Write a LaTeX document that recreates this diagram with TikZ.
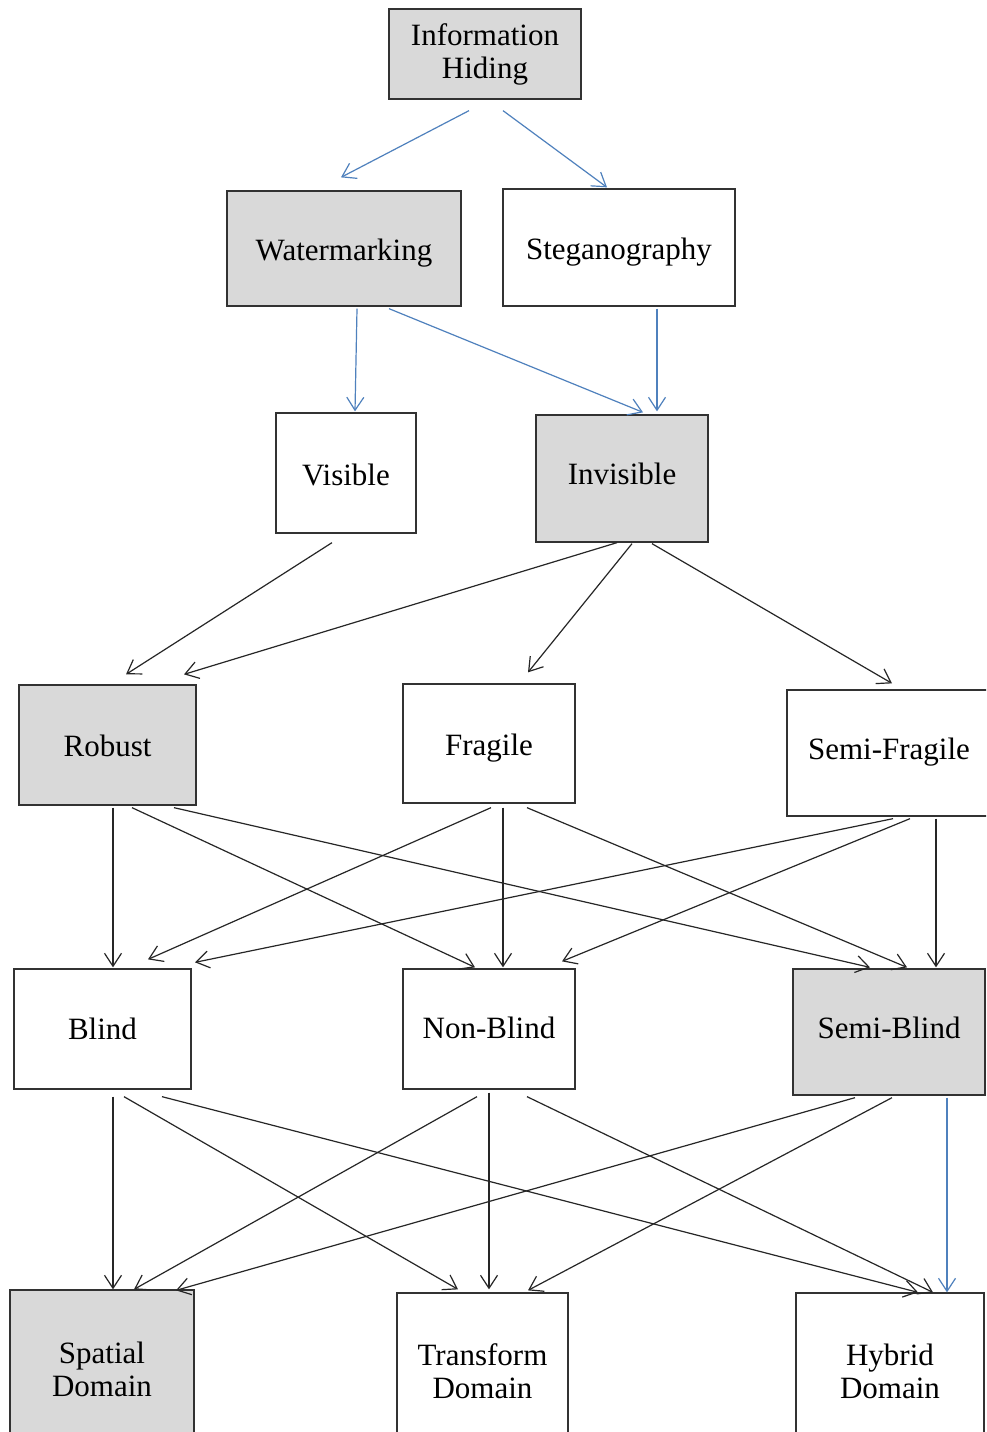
\documentclass[tikz,border=0pt]{standalone}
\usepackage{fontspec}
\setmainfont{Liberation Serif}
\usetikzlibrary{arrows.meta}
\definecolor{lineblue}{RGB}{79,129,189}
\definecolor{boxgray}{RGB}{217,217,217}
\definecolor{boxedge}{RGB}{50,50,50}
\begin{document}
\begin{tikzpicture}[x=1pt,y=-1pt,
  box/.style={draw=boxedge,line width=1.3pt,rectangle,inner sep=0pt,align=center,
    font=\fontsize{31}{33}\selectfont},
  graybox/.style={box,fill=boxgray},
  whitebox/.style={box,fill=white},
  tl/.style={text depth=0pt,text height=#1},
  conn/.style={line width=1.2pt,-{Straight Barb[length=13pt,width=17pt]}},
  blk/.style={conn,draw=black!85},
  blu/.style={conn,draw=lineblue}]
\useasboundingbox (0,0) rectangle (986,1432);
\clip (0,0) rectangle (986,1432);
\fill[white] (0,0) rectangle (986,1432);
% nodes
\node[graybox,minimum width=192pt,minimum height=90pt] (info) at (485,54) {Information\\Hiding};
\node[graybox,tl=23.8pt,minimum width=234pt,minimum height=115pt] (wm) at (344,248.5) {Watermarking};
\node[whitebox,tl=23.8pt,minimum width=232pt,minimum height=117pt] (steg) at (619,247.5) {Steganography};
\node[whitebox,tl=24.8pt,minimum width=140pt,minimum height=120pt] (vis) at (346,473) {Visible};
\node[graybox,tl=11.8pt,minimum width=172pt,minimum height=127pt] (invis) at (622,478.5) {Invisible};
\node[graybox,tl=22.8pt,minimum width=177pt,minimum height=120pt] (rob) at (107.5,745) {Robust};
\node[whitebox,tl=23.8pt,minimum width=172pt,minimum height=119pt] (frag) at (489,743.5) {Fragile};
\node[whitebox,tl=12.8pt,minimum width=204pt,minimum height=126pt] (sfrag) at (889,753) {Semi-Fragile};
\node[whitebox,tl=20.8pt,minimum width=177pt,minimum height=120pt] (blind) at (102.5,1029) {Blind};
\node[whitebox,tl=18.8pt,minimum width=172pt,minimum height=120pt] (nblind) at (489,1029) {Non-Blind};
\node[graybox,tl=12.8pt,minimum width=192pt,minimum height=126pt] (sblind) at (889,1032) {Semi-Blind};
\node[graybox,minimum width=184pt,minimum height=158pt] (spat) at (102,1369) {Spatial\\Domain};
\node[whitebox,minimum width=171pt,minimum height=156pt] (trans) at (482.5,1371) {Transform\\Domain};
\node[whitebox,minimum width=188pt,minimum height=156pt] (hyb) at (890,1371) {Hybrid\\Domain};
% blue connectors
\draw[blu] ([shift={(-16,11)}]info.south) -- ([shift={(-3,-13)}]wm.north);
\draw[blu] ([shift={(18,11)}]info.south) -- ([shift={(-12,-1)}]steg.north);
\draw[blu] ([shift={(13,2)}]wm.south) -- ([shift={(9,-1)}]vis.north);
\draw[blu] ([shift={(45,2)}]wm.south) -- ([shift={(21,-2)}]invis.north);
\draw[blu] ([shift={(38,2)}]steg.south) -- ([shift={(35,-3)}]invis.north);
% level 3
\draw[blk] ([shift={(-14,9)}]vis.south) -- ([shift={(18.5,-10)}]rob.north);
\draw[blk] ([shift={(-5,0)}]invis.south) -- ([shift={(76.5,-10)}]rob.north);
\draw[blk] ([shift={(10,1)}]invis.south) -- ([shift={(39,-11)}]frag.north);
\draw[blk] ([shift={(30,1)}]invis.south) -- ([shift={(3,-6)}]sfrag.north);
% level 4
\draw[blk] ([shift={(5.5,2)}]rob.south) -- ([shift={(10.5,-1)}]blind.north);
\draw[blk] ([shift={(24.5,2)}]rob.south) -- ([shift={(-14,-1)}]nblind.north);
\draw[blk] ([shift={(66.5,2)}]rob.south) -- ([shift={(-19,-1)}]sblind.north);
\draw[blk] ([shift={(2,4)}]frag.south) -- ([shift={(45.5,-9)}]blind.north);
\draw[blk] ([shift={(14,4)}]frag.south) -- ([shift={(14,-1)}]nblind.north);
\draw[blk] ([shift={(38,4)}]frag.south) -- ([shift={(18,-1)}]sblind.north);
\draw[blk] ([shift={(4,2)}]sfrag.south) -- ([shift={(92.5,-6)}]blind.north);
\draw[blk] ([shift={(21,2)}]sfrag.south) -- ([shift={(73,-7)}]nblind.north);
\draw[blk] ([shift={(47,2)}]sfrag.south) -- ([shift={(47,-1)}]sblind.north);
% level 5
\draw[blk] ([shift={(10.5,7)}]blind.south) -- ([shift={(11,0)}]spat.north);
\draw[blk] ([shift={(21.5,7)}]blind.south) -- ([shift={(-24.5,-3)}]trans.north);
\draw[blk] ([shift={(59.5,7)}]blind.south) -- ([shift={(28,0)}]hyb.north);
\draw[blk] ([shift={(-12,7)}]nblind.south) -- ([shift={(32,0)}]spat.north);
\draw[blk] ([shift={(0,3)}]nblind.south) -- ([shift={(6.5,-3)}]trans.north);
\draw[blk] ([shift={(38,7)}]nblind.south) -- ([shift={(43,0)}]hyb.north);
\draw[blk] ([shift={(-34,2)}]sblind.south) -- ([shift={(74,1)}]spat.north);
\draw[blk] ([shift={(3,2)}]sblind.south) -- ([shift={(45.5,-2)}]trans.north);
\draw[blu] ([shift={(58,2)}]sblind.south) -- ([shift={(57,0)}]hyb.north);
\end{tikzpicture}
\end{document}
